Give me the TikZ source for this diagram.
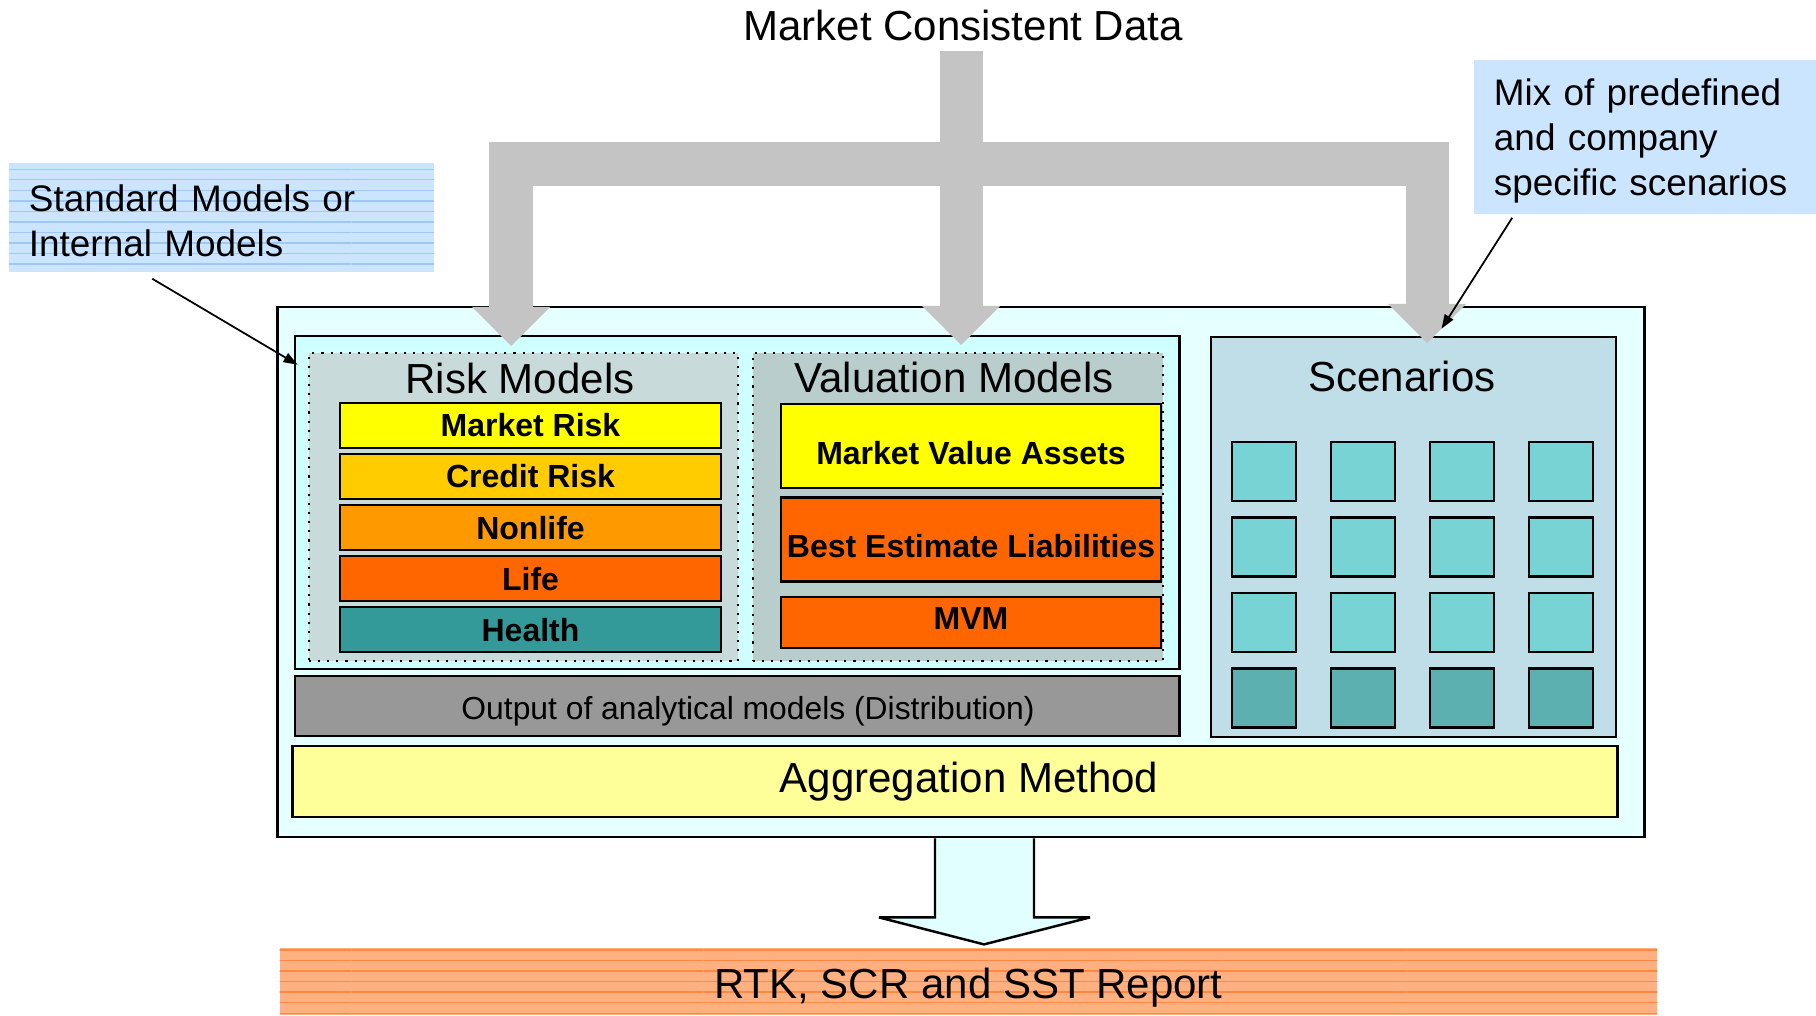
\documentclass[tikz,border=0pt]{standalone}
\usepackage{fontspec}
\setmainfont{Liberation Sans}
\usetikzlibrary{positioning,arrows.meta,patterns}

\definecolor{feedgray}{RGB}{196,196,196}
\definecolor{notebg}{RGB}{204,229,255}
\definecolor{noteline}{RGB}{160,200,245}
\definecolor{outerbg}{RGB}{230,255,255}
\definecolor{innerbg}{RGB}{208,255,255}
\definecolor{riskbg}{RGB}{200,218,218}
\definecolor{valbg}{RGB}{186,205,205}
\definecolor{mktyellow}{RGB}{255,255,0}
\definecolor{creditorange}{RGB}{255,204,0}
\definecolor{nonlifeorange}{RGB}{255,153,0}
\definecolor{lifeorange}{RGB}{255,102,0}
\definecolor{healthteal}{RGB}{51,153,153}
\definecolor{outgray}{RGB}{152,152,152}
\definecolor{scenbg}{RGB}{192,222,232}
\definecolor{cellteal}{RGB}{120,212,212}
\definecolor{darkcell}{RGB}{92,176,176}
\definecolor{aggyellow}{RGB}{255,255,153}
\definecolor{arrowbg}{RGB}{226,255,255}
\definecolor{repbg}{RGB}{255,176,128}
\definecolor{repline}{RGB}{255,136,68}

\begin{document}
\begin{tikzpicture}[x=0.01cm, y=-0.01cm, node distance=0.51cm,
    box/.style={draw, line width=0.7pt, inner sep=0pt},
    note/.style={align=left, inner xsep=0.2cm, inner ysep=0pt, font=\fontsize{10.5}{12.8}\selectfont},
    heading/.style={inner sep=0pt, anchor=base, font=\fontsize{11.95}{14}\selectfont},
    area/.style={draw, dotted, line width=0.6pt, minimum width=#1, minimum height=3.08cm},
    risk/.style={box, fill=#1, minimum width=3.81cm, minimum height=0.45cm, font=\fontsize{9.1}{11}\selectfont\bfseries},
    val/.style={box, fill=#1, minimum width=3.80cm, font=\fontsize{9.1}{11}\selectfont\bfseries},
    cell/.style={box, fill=#1, minimum width=0.64cm, minimum height=0.59cm},
    feed/.style={draw=feedgray, line width=0.43cm},
    pointer/.style={draw=black, line width=0.5pt, -{Triangle[length=0.14cm, width=0.1cm]}}]

    \useasboundingbox (0,0) rectangle (1816,1015);

    % frame and model boxes
    \node[box, fill=outerbg, minimum width=13.66cm, minimum height=5.30cm] (main) at (961,572) {};
    \node[box, fill=innerbg, minimum width=8.84cm, minimum height=3.33cm] (models) at (737,502.5) {};
    \node[area=4.29cm, fill=riskbg] (riskarea) at (523.5,507) {};
    \node[area=4.10cm, fill=valbg] (valarea) at (958,507) {};
    \node[heading] (risktitle) at (520,393) {Risk Models};
    \node[heading] (valtitle) at (954,392) {Valuation Models};

    \node[risk=mktyellow] (mr) at (530.5,425.5) {Market Risk};
    \node[risk=creditorange] (cr) [below of=mr] {Credit Risk};
    \node[risk=nonlifeorange] (nl) [below of=cr] {Nonlife};
    \node[risk=lifeorange] (lf) [below of=nl] {Life};
    \node[risk=healthteal] (hl) [below of=lf] {Health};

    \node[val=mktyellow, minimum height=0.84cm, text height=0.36cm, text depth=0pt] (mva) at (971,446) {Market Value Assets};
    \node[val=lifeorange, minimum height=0.84cm, text height=0.36cm, text depth=0pt] (bel) [below=0.07cm of mva] {Best Estimate Liabilities};
    \node[val=lifeorange, minimum height=0.51cm, text depth=0.08cm] (mvm) [below=0.13cm of bel] {MVM};

    \node[box, fill=outgray, minimum width=8.84cm, minimum height=0.60cm, text height=0.32cm, text depth=0.06cm,
          font=\fontsize{9.05}{11}\selectfont] (out) at (737,706) {\hspace*{0.22cm}Output of analytical models (Distribution)};

    % scenarios
    \node[box, fill=scenbg, minimum width=4.05cm, minimum height=4.00cm] (scen) at (1413.5,537) {};
    \node[heading] (scentitle) at (1402,391) {Scenarios};
    \begin{scope}[node distance=0.14cm and 0.325cm]
    \node[cell=cellteal] (1) at (1264,471.5) {};
    \node[cell=cellteal] (2) [right=of 1] {};
    \node[cell=cellteal] (3) [right=of 2] {};
    \node[cell=cellteal] (4) [right=of 3] {};
    \node[cell=cellteal] (5) [below=of 1] {};
    \node[cell=cellteal] (6) [right=of 5] {};
    \node[cell=cellteal] (7) [right=of 6] {};
    \node[cell=cellteal] (8) [right=of 7] {};
    \node[cell=cellteal] (9) [below=of 5] {};
    \node[cell=cellteal] (10) [right=of 9] {};
    \node[cell=cellteal] (11) [right=of 10] {};
    \node[cell=cellteal] (12) [right=of 11] {};
    \node[cell=darkcell] (13) [below=of 9] {};
    \node[cell=darkcell] (14) [right=of 13] {};
    \node[cell=darkcell] (15) [right=of 14] {};
    \node[cell=darkcell] (16) [right=of 15] {};
    \end{scope}

    \node[box, fill=aggyellow, minimum width=13.24cm, minimum height=0.71cm,
          font=\fontsize{11.95}{14}\selectfont] (agg) at (955,781.5) {\hspace*{0.28cm}Aggregation Method};

    % report
    \filldraw[fill=arrowbg, line width=0.7pt, miter limit=2] ([xshift=-0.26cm]main.south) -- ++(0,79) -- ++(-56,0)
        -- ++(105,27) -- ++(106,-27) -- ++(-56,0) -- ++(0,-79);
    \node[preaction={fill=repbg}, pattern=horizontal lines, pattern color=repline, inner sep=0pt,
          minimum width=13.77cm, minimum height=0.67cm, text height=0.41cm, text depth=0.08cm,
          font=\fontsize{11.95}{14}\selectfont] (rep) at (968.5,981.5) {RTK, SCR and SST Report};

    % inputs
    \node[heading, inner sep=0.09cm] (mcd) at (963,41) {Market Consistent Data};
    \node[note, preaction={fill=notebg}, pattern=horizontal lines, pattern color=noteline,
          text width=3.85cm, minimum height=1.09cm, text height=0.33cm] (std) at (221.5,217.5) {Standard Models or\\Internal Models};
    \node[note, fill=notebg, text width=3.02cm, minimum height=1.54cm, text height=0.34cm] (mix) at (1645,137)
        {Mix of predefined\\and company\\specific scenarios};

    \coordinate (split) at (961,164);
    \coordinate (tip1) at (511,346);
    \coordinate (tip2) at (961,345);
    \coordinate (tip3) at (1427,343);
    \draw[feed] (mcd.south -| split) -- (split);
    \draw[feed, line cap=rect] (tip1 |- split) -- (tip3 |- split);
    \draw[feed, -{Triangle[width=0.78cm, length=0.39cm, line width=0pt]}] (tip1 |- split) -- (tip1);
    \draw[feed, -{Triangle[width=0.78cm, length=0.39cm, line width=0pt]}] (split) -- (tip2);
    \draw[feed, -{Triangle[width=0.78cm, length=0.39cm, line width=0pt]}] (tip3 |- split) -- (tip3);

    \draw[pointer] ([xshift=1.44cm, yshift=-0.06cm]std.south west) -- ([xshift=0.04cm, yshift=-0.30cm]models.north west);
    \draw[pointer] ([xshift=0.39cm, yshift=-0.03cm]mix.south west) -- ([xshift=0.28cm, yshift=0.07cm]scen.north);

\end{tikzpicture}
\end{document}
